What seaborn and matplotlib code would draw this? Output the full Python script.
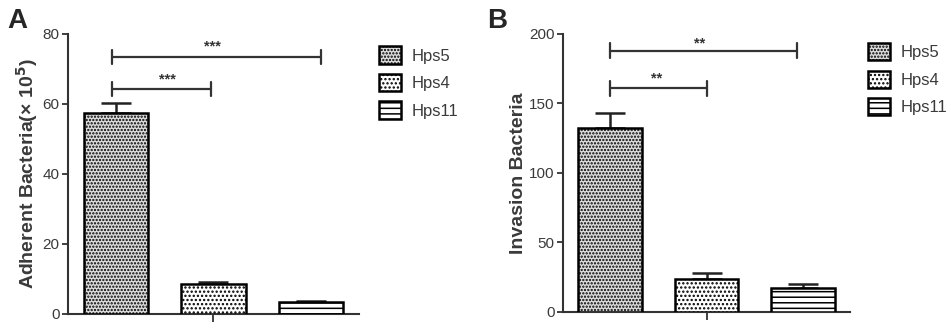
import numpy as np
import pandas as pd
import matplotlib
matplotlib.use("Agg")
import matplotlib.pyplot as plt
from matplotlib.patches import Patch
import seaborn as sns

# data
groups = ["Hps5", "Hps4", "Hps11"]
adherent = [57.5, 8.6, 3.3]
adherent_err = [2.9, 0.6, 0.5]
invasion = [132.5, 23.3, 16.8]
invasion_err = [10.4, 4.8, 2.9]
adherent_sig = ["***", "***"]
invasion_sig = ["**", "**"]

sns.set_style("ticks")
plt.rcParams["font.family"] = ["Liberation Sans", "DejaVu Sans"]
plt.rcParams["hatch.linewidth"] = 1.1

faces = ["#dcdcdc", "white", "white"]
hatches = [".....", "....", "---"]
grey_txt = "#3a3a3a"

fig = plt.figure(figsize=(9.51, 3.31), dpi=100)
axA = fig.add_axes([0.0715, 0.0514, 0.306, 0.846])
axB = fig.add_axes([0.592, 0.0583, 0.302, 0.839])


def draw_panel(ax, vals, errs, ymax, ystep, ylabel, sig, brackets, tick_h, lx):
    df = pd.DataFrame({"group": groups, "value": vals})
    sns.barplot(data=df, x="group", y="value", hue="group", palette=faces,
                width=0.66, edgecolor="black", linewidth=1.8, legend=False,
                ax=ax, zorder=3)
    for p, h in zip(ax.patches, hatches):
        p.set_hatch(h)
    ax.errorbar(range(len(vals)), vals, yerr=[np.zeros(len(vals)), errs],
                fmt="none", ecolor="#222222", elinewidth=1.8, capsize=11,
                capthick=1.8, zorder=2)
    ax.set_ylim(0, ymax)
    ax.set_xlim(-0.49, 2.49)
    ax.set_yticks(np.arange(0, ymax + 1, ystep))
    ax.set_xticks([1])
    ax.set_xticklabels([""])
    ax.set_xlabel("")
    ax.set_ylabel(ylabel, fontsize=14, fontweight="bold", color=grey_txt)
    ax.yaxis.set_label_coords(lx, 0.5)
    ax.tick_params(axis="y", labelsize=11, labelcolor=grey_txt, width=1.3,
                   length=4, color="#333333", pad=2)
    ax.tick_params(axis="x", width=1.3, length=6, color="#333333")
    for s in ["left", "bottom"]:
        ax.spines[s].set_linewidth(1.5)
        ax.spines[s].set_color("#333333")
    sns.despine(ax=ax)
    # significance brackets
    for (x0, x1, y, sx, sy), s in zip(brackets, sig):
        ax.plot([x0, x1], [y, y], color="#333333", lw=1.6, clip_on=False)
        for xx in (x0, x1):
            ax.plot([xx, xx], [y - tick_h, y + tick_h], color="#333333",
                    lw=1.6, clip_on=False)
        ax.text(sx, sy, s, ha="center", va="center", fontsize=10.5,
                color="#333333", fontweight="bold")


draw_panel(axA, adherent, adherent_err, 80, 20,
           "Adherent Bacteria(× 10$^{\\mathbf{5}}$)", adherent_sig,
           [(-0.04, 2.10, 73.3, 0.985, 76.5), (-0.04, 0.97, 64.2, 0.525, 67.0)],
           2.0, -0.096)
draw_panel(axB, invasion, invasion_err, 200, 50,
           "Invasion Bacteria", invasion_sig,
           [(0.0, 1.94, 188, 0.93, 193), (0.0, 1.005, 161, 0.48, 168)],
           5.5, -0.125)

fig.text(0.008, 0.975, "A", fontsize=20, fontweight="bold", va="top")
fig.text(0.512, 0.975, "B", fontsize=20, fontweight="bold", va="top")

handles = [Patch(facecolor=f, edgecolor="black", hatch=h, linewidth=1.8)
           for f, h in zip(faces, hatches)]
for ax, anchor in [(axA, (0.383, 0.905)), (axB, (0.897, 0.915))]:
    fig.legend(handles, groups, loc="upper left", bbox_to_anchor=anchor,
               frameon=False, fontsize=12, handlelength=1.33, handleheight=1.2,
               labelspacing=0.62, handletextpad=0.6, labelcolor=grey_txt)

fig.savefig("out.png", dpi=100)
